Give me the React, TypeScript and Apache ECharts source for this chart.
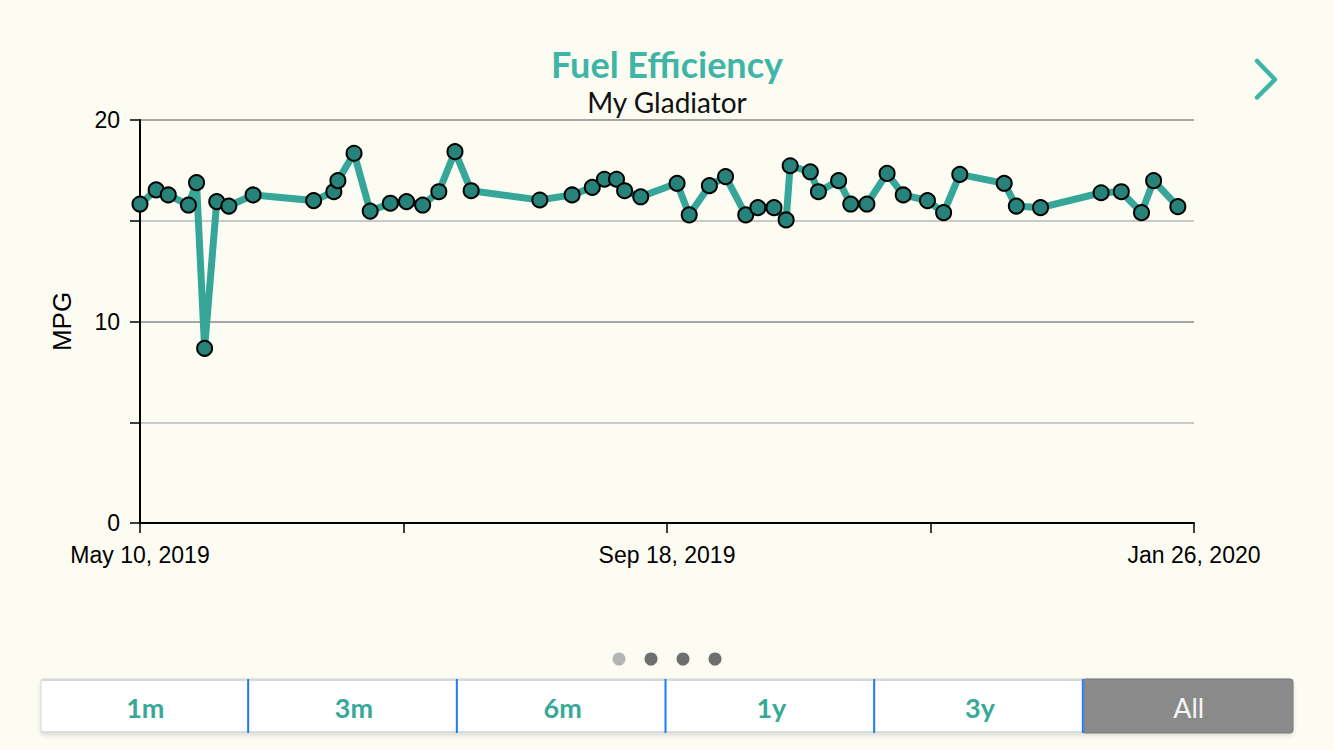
import React, { useEffect, useRef } from "react";
import * as echarts from "echarts";

// Fill-up dates and the fuel efficiency computed at each fill-up
const fillDates = [
  "2019-05-10", "2019-05-14", "2019-05-17", "2019-05-22", "2019-05-24", "2019-05-26",
  "2019-05-29", "2019-06-01", "2019-06-07", "2019-06-22", "2019-06-27", "2019-06-28",
  "2019-07-02", "2019-07-06", "2019-07-11", "2019-07-15", "2019-07-19", "2019-07-23",
  "2019-07-27", "2019-07-31", "2019-08-17", "2019-08-25", "2019-08-30", "2019-09-02",
  "2019-09-05", "2019-09-07", "2019-09-11", "2019-09-20", "2019-09-23", "2019-09-28",
  "2019-10-02", "2019-10-07", "2019-10-10", "2019-10-14", "2019-10-17", "2019-10-18",
  "2019-10-23", "2019-10-25", "2019-10-30", "2019-11-02", "2019-11-06", "2019-11-11",
  "2019-11-15", "2019-11-21", "2019-11-25", "2019-11-29", "2019-12-10", "2019-12-13",
  "2019-12-19", "2020-01-03", "2020-01-08", "2020-01-13", "2020-01-16", "2020-01-22",
];
const mpgValues = [
  15.83, 16.53, 16.28, 15.78, 16.89, 8.67,
  15.95, 15.73, 16.28, 16.0, 16.44, 16.99,
  18.35, 15.48, 15.87, 15.95, 15.78, 16.44,
  18.43, 16.49, 16.03, 16.28, 16.66, 17.06,
  17.06, 16.49, 16.19, 16.86, 15.29, 16.74,
  17.19, 15.29, 15.65, 15.65, 15.04, 17.73,
  17.43, 16.44, 16.99, 15.83, 15.83, 17.35,
  16.28, 16.0, 15.4, 17.3, 16.86, 15.73,
  15.65, 16.39, 16.44, 15.4, 16.99, 15.7,
];

const rangeStart = "2019-05-10";
const rangeEnd = "2020-01-26";
const xTickLabels = ["May 10, 2019", "", "Sep 18, 2019", "", "Jan 26, 2020"];
const yTickLabels = ["0", "", "10", "", "20"];
const rangeButtons = ["1m", "3m", "6m", "1y", "3y", "All"];
const activeRange = "All";
const pageDots = [false, true, true, true];

const DAY = 86400000;
const dayOffset = (d: string) =>
  Math.round((new Date(d).getTime() - new Date(rangeStart).getTime()) / DAY);

const TEAL = "#3fb5a7";
const BG = "#fcfcf3";
const AXIS_FONT = "Liberation Sans";

function buildGraphics(): any[] {
  const items: any[] = [];

  // next-page chevron
  items.push({
    type: "polyline",
    shape: { points: [[1257, 61], [1275, 79.5], [1257, 97.5]] },
    style: { stroke: TEAL, lineWidth: 4.5, fill: null, lineCap: "round", lineJoin: "round" },
    silent: true,
  });

  // page indicator dots
  pageDots.forEach((dark, i) => {
    items.push({
      type: "circle",
      shape: { cx: 619 + i * 32, cy: 659, r: 6.5 },
      style: { fill: dark ? "#6e6e6e" : "#b4b4b4" },
      silent: true,
    });
  });

  // range selector
  const left = 41;
  const top = 679;
  const width = 1252;
  const height = 54;
  const seg = width / rangeButtons.length;
  items.push({
    type: "rect",
    shape: { x: left, y: top, width, height, r: 2 },
    style: {
      fill: "#ffffff",
      stroke: "#d6d6d6",
      lineWidth: 1,
      shadowBlur: 4,
      shadowOffsetY: 2,
      shadowColor: "rgba(0,0,0,0.12)",
    },
    silent: true,
  });
  items.push({
    type: "line",
    shape: { x1: left, y1: top + 1, x2: left + width, y2: top + 1 },
    style: { stroke: "#d9d9d9", lineWidth: 2 },
    silent: true,
  });
  items.push({
    type: "line",
    shape: { x1: left, y1: top + height - 1, x2: left + width, y2: top + height - 1 },
    style: { stroke: "#dcdcdc", lineWidth: 2 },
    silent: true,
  });
  rangeButtons.forEach((label, i) => {
    const x0 = left + i * seg;
    const active = label === activeRange;
    if (active) {
      items.push({
        type: "rect",
        shape: { x: x0, y: top, width: seg, height, r: [0, 3, 3, 0] },
        style: { fill: "#8a8a8a", stroke: "#7a7a7a", lineWidth: 1 },
        silent: true,
      });
    }
    if (i > 0) {
      items.push({
        type: "line",
        shape: { x1: x0 - 1.5, y1: top, x2: x0 - 1.5, y2: top + height },
        style: { stroke: "#1c7cf2", lineWidth: 2 },
        silent: true,
      });
    }
    items.push({
      type: "text",
      x: x0 + seg / 2,
      y: top + height / 2 + 1,
      style: {
        text: label,
        fill: active ? "#f4f4f4" : "#38a998",
        font: active ? "normal 27px Lato" : "bold 27px Lato",
        textAlign: "center",
        textVerticalAlign: "middle",
      },
      silent: true,
    });
  });

  return items;
}

export default function App() {
  const ref = useRef<HTMLDivElement>(null);

  useEffect(() => {
    if (!ref.current) return;
    const chart = echarts.init(ref.current, null, { renderer: "svg" });
    const span = dayOffset(rangeEnd);
    const points = fillDates.map((d, i) => [dayOffset(d), mpgValues[i]]);

    chart.setOption({
      animation: false,
      backgroundColor: BG,
      title: {
        text: "Fuel Efficiency",
        subtext: "My Gladiator",
        left: "center",
        top: 46,
        padding: 0,
        itemGap: 6,
        textStyle: { fontFamily: "Lato", fontWeight: "bold", fontSize: 36, color: TEAL },
        subtextStyle: { fontFamily: "Lato", fontSize: 28, color: "#111111" },
      },
      grid: { left: 140, right: 140, top: 120, bottom: 227, containLabel: false },
      xAxis: {
        type: "value",
        min: 0,
        max: span,
        interval: span / 4,
        axisLine: { show: true, lineStyle: { color: "#000", width: 2 } },
        axisTick: { show: true, length: 10, lineStyle: { color: "#000", width: 1.5 } },
        splitLine: { show: false },
        axisLabel: {
          formatter: (_v: number, i: number) => xTickLabels[i] ?? "",
          margin: 20,
          fontFamily: AXIS_FONT,
          fontSize: 23,
          color: "#000",
        },
      },
      yAxis: {
        type: "value",
        min: 0,
        max: 20,
        interval: 5,
        name: "MPG",
        nameLocation: "middle",
        nameRotate: 90,
        nameGap: 65,
        nameTextStyle: { fontFamily: AXIS_FONT, fontSize: 26, color: "#000" },
        axisLine: { show: true, lineStyle: { color: "#000", width: 2 } },
        axisTick: { show: true, length: 10, lineStyle: { color: "#000", width: 1.5 } },
        splitLine: { show: true, lineStyle: { color: ["#8a8a8a", "#b8b8b8"], width: 1.5 } },
        axisLabel: {
          formatter: (_v: number, i: number) => yTickLabels[i] ?? "",
          margin: 20,
          fontFamily: AXIS_FONT,
          fontSize: 23,
          color: "#000",
        },
      },
      series: [
        {
          type: "line",
          data: points,
          symbol: "circle",
          symbolSize: 15,
          z: 3,
          lineStyle: { color: "#36a699", width: 7, join: "miter", miterLimit: 10 },
          itemStyle: { color: "#27837a", borderColor: "#000", borderWidth: 2 },
          emphasis: { disabled: true },
        },
      ],
      graphic: buildGraphics(),
    });

    return () => chart.dispose();
  }, []);

  return (
    <div
      ref={ref}
      style={{ position: "fixed", left: 0, top: 0, width: 1334, height: 750, background: BG }}
    />
  );
}
